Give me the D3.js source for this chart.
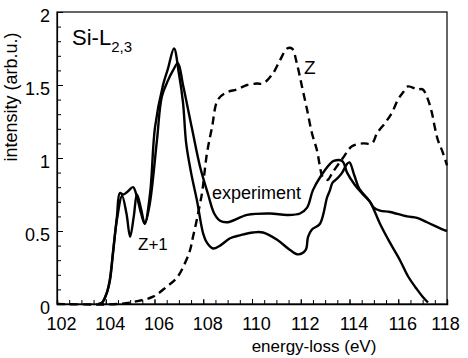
<!DOCTYPE html>
<html>
<head>
<meta charset="utf-8">
<script src="https://cdn.jsdelivr.net/npm/d3@7"></script>
<style>
  body { margin: 0; background: #fff; }
  text { font-family: "Liberation Sans", Arial, sans-serif; fill: #000; }
</style>
</head>
<body>
<svg id="chart" width="468" height="358"></svg>
<script>
// energy-loss (eV) and intensity values
const expEnergy = [103.7, 103.85, 104.05, 104.17, 104.3, 104.46, 104.58, 104.72, 104.9, 105.12, 105.3, 105.45, 105.6, 105.8, 106.1, 106.3, 106.55, 106.76, 106.96, 107.17, 107.54, 107.87, 108.2, 108.45, 108.69, 109.0, 109.8, 110.74, 111.44, 111.97, 112.26, 112.5, 112.8, 113.2, 113.35, 113.7, 113.9, 114.2, 114.5, 114.84, 115.0, 115.25, 115.66, 116.36, 116.77, 117.18, 117.84, 118.0];
const expIntensity = [0, 0.01, 0.08, 0.17, 0.36, 0.6, 0.76, 0.75, 0.77, 0.8, 0.72, 0.62, 0.55, 0.68, 1.12, 1.42, 1.53, 1.6, 1.65, 1.5, 1.2, 0.94, 0.75, 0.62, 0.57, 0.56, 0.61, 0.62, 0.61, 0.62, 0.66, 0.78, 0.87, 0.96, 0.98, 0.98, 0.9, 0.82, 0.76, 0.7, 0.66, 0.64, 0.63, 0.6, 0.59, 0.56, 0.51, 0.5];

const z1Energy = [103.7, 103.85, 104.05, 104.17, 104.3, 104.46, 104.67, 104.85, 105.0, 105.15, 105.28, 105.45, 105.6, 105.82, 106.02, 106.35, 106.55, 106.8, 107.0, 107.17, 107.3, 107.5, 107.74, 108.0, 108.15, 108.4, 108.69, 109.1, 109.5, 110.04, 110.45, 111.03, 111.56, 111.9, 112.2, 112.3, 112.46, 112.79, 113.08, 113.2, 113.3, 113.5, 113.7, 113.9, 114.0, 114.2, 114.4, 114.84, 115.25, 115.66, 116.07, 116.4, 116.77, 117.0, 117.22];
const z1Intensity = [0, 0.01, 0.08, 0.16, 0.35, 0.58, 0.74, 0.62, 0.46, 0.6, 0.75, 0.65, 0.55, 0.76, 1.21, 1.5, 1.61, 1.75, 1.58, 1.38, 1.1, 0.9, 0.71, 0.48, 0.42, 0.38, 0.4, 0.45, 0.47, 0.49, 0.49, 0.44, 0.37, 0.34, 0.37, 0.46, 0.51, 0.55, 0.73, 0.78, 0.83, 0.86, 0.9, 0.96, 0.97, 0.88, 0.79, 0.7, 0.55, 0.42, 0.3, 0.19, 0.1, 0.05, 0.01];

const zEnergy = [102, 104.5, 105.3, 105.94, 106.51, 106.92, 107.25, 107.46, 107.58, 107.74, 107.87, 107.95, 108.15, 108.36, 108.6, 108.97, 109.38, 109.8, 110.2, 110.45, 110.86, 111.15, 111.44, 111.64, 111.85, 112.05, 112.26, 112.46, 112.67, 112.79, 112.9, 113.1, 113.3, 113.73, 114.1, 114.55, 114.92, 115.13, 115.46, 115.74, 115.99, 116.2, 116.4, 116.77, 117.0, 117.22, 117.38, 117.5, 117.63, 117.8, 118.0];
const zIntensity = [0, 0, 0.02, 0.05, 0.12, 0.18, 0.28, 0.37, 0.46, 0.58, 0.69, 0.76, 1.03, 1.21, 1.4, 1.45, 1.47, 1.5, 1.51, 1.51, 1.58, 1.67, 1.75, 1.75, 1.64, 1.49, 1.33, 1.17, 1.05, 0.94, 0.87, 0.85, 0.9, 1.0, 1.08, 1.1, 1.1, 1.17, 1.24, 1.31, 1.4, 1.45, 1.49, 1.47, 1.47, 1.4, 1.31, 1.21, 1.12, 1.05, 0.95];

const xTicks = [102, 104, 106, 108, 110, 112, 114, 116, 118];
const yTicks = [0, 0.5, 1, 1.5, 2];

const svg = d3.select("#chart");
const margin = { top: 12, right: 21, bottom: 54, left: 57 };
const width = +svg.attr("width");
const height = +svg.attr("height");

const x = d3.scaleLinear()
  .domain([102, 118])
  .range([margin.left, width - margin.right]);

const y = d3.scaleLinear()
  .domain([0, 2])
  .range([height - margin.bottom, margin.top]);

// frame
svg.append("rect")
  .attr("x", x(102))
  .attr("y", y(2))
  .attr("width", x(118) - x(102))
  .attr("height", y(0) - y(2))
  .attr("fill", "none")
  .attr("stroke", "#000")
  .attr("stroke-width", 1.2);

// bottom axis: minor ticks every 0.5 eV, pointing inward
svg.append("g")
  .attr("transform", `translate(0,${y(0)})`)
  .call(d3.axisBottom(x).tickValues(d3.range(102, 118.01, 0.5)).tickSize(-4).tickFormat(""))
  .call(g => g.select(".domain").attr("stroke-width", 1.5));

const xAxis = svg.append("g")
  .attr("transform", `translate(0,${y(0)})`)
  .call(d3.axisBottom(x).tickValues(xTicks).tickSize(-5).tickPadding(0));
xAxis.select(".domain").remove();
xAxis.selectAll("text")
  .attr("y", 26)
  .attr("dy", 0)
  .attr("dx", d => d === 118 ? -2 : 4)
  .style("font-size", "18px");

// left axis: minor ticks every 0.1
svg.append("g")
  .attr("transform", `translate(${x(102)},0)`)
  .call(d3.axisLeft(y).tickValues(d3.range(0, 2.001, 0.1)).tickSize(-4).tickFormat(""))
  .call(g => g.select(".domain").attr("stroke-width", 1.2));

const yAxis = svg.append("g")
  .attr("transform", `translate(${x(102)},0)`)
  .call(d3.axisLeft(y).tickValues(yTicks).tickSize(-6).tickFormat(d3.format("")));
yAxis.select(".domain").remove();
yAxis.selectAll("text")
  .attr("x", -7)
  .attr("dy", "0.55em")
  .style("font-size", "18px");

svg.selectAll(".tick line").attr("stroke", "#000");

const line = d3.line()
  .x(d => x(d[0]))
  .y(d => y(d[1]))
  .curve(d3.curveCatmullRom.alpha(0.5));

const series = [
  { e: zEnergy, v: zIntensity, dash: "8,5" },
  { e: z1Energy, v: z1Intensity, dash: null },
  { e: expEnergy, v: expIntensity, dash: null }
];

svg.selectAll("path.curve")
  .data(series)
  .enter()
  .append("path")
  .attr("class", "curve")
  .attr("d", s => line(s.e.map((e, i) => [e, s.v[i]])))
  .attr("fill", "none")
  .attr("stroke", "#000")
  .attr("stroke-width", 2.4)
  .attr("stroke-linejoin", "round")
  .attr("stroke-dasharray", s => s.dash);

// labels
const title = svg.append("text")
  .attr("x", 72)
  .attr("y", 45)
  .style("font-size", "22px");
title.append("tspan").text("Si-L");
title.append("tspan").attr("dy", 7).style("font-size", "15px").text("2,3");

svg.append("text").attr("x", 304).attr("y", 74).style("font-size", "19px").text("Z");
svg.append("text").attr("x", 212).attr("y", 199).style("font-size", "18px").text("experiment");
svg.append("text").attr("x", 138).attr("y", 250).style("font-size", "17px").text("Z+1");

svg.append("text")
  .attr("x", 314)
  .attr("y", 352)
  .attr("text-anchor", "middle")
  .style("font-size", "17px")
  .text("energy-loss (eV)");

svg.append("text")
  .attr("transform", "translate(17,97) rotate(-90)")
  .attr("text-anchor", "middle")
  .style("font-size", "18px")
  .text("intensity (arb.u.)");
</script>
</body>
</html>
